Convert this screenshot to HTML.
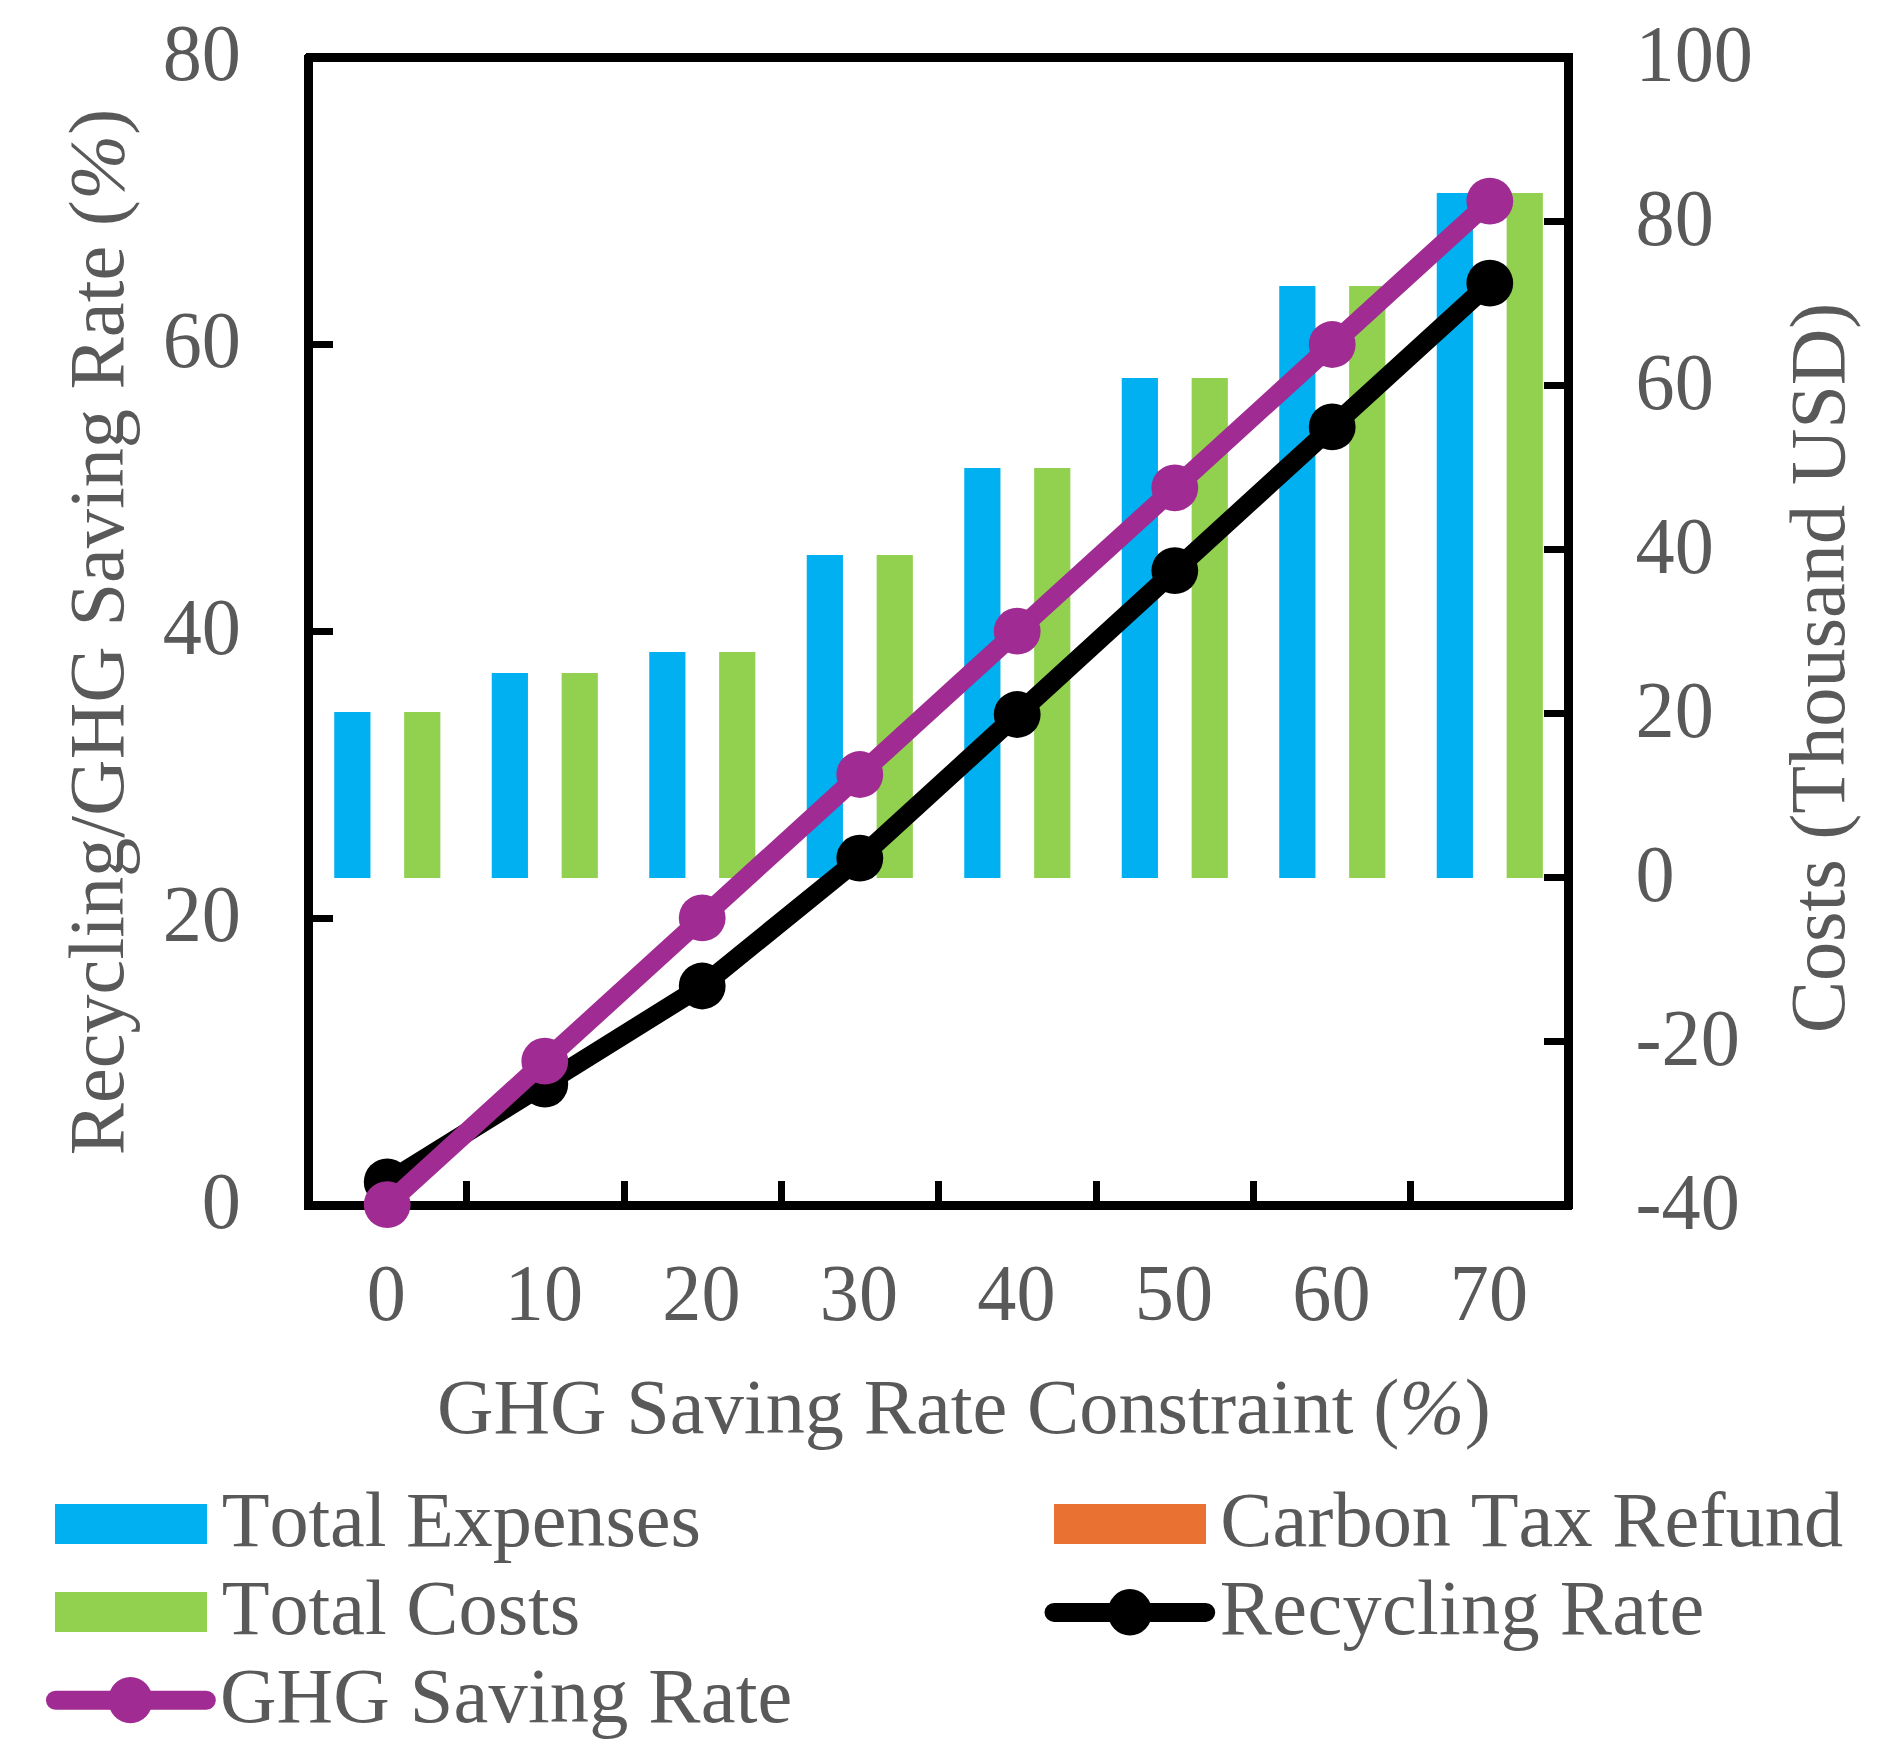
<!DOCTYPE html>
<html lang="en"><head><meta charset="utf-8"><title>GHG Saving Rate Constraint chart</title>
<style>
html,body{margin:0;padding:0;background:#fff;}
body{width:1898px;height:1744px;overflow:hidden;}
svg{display:block;}
text{font-family:"Liberation Serif",serif;font-size:78.3px;fill:#595959;font-kerning:none;white-space:pre;}
.i{font-style:italic;}
</style></head><body>
<svg width="1898" height="1744" viewBox="0 0 1898 1744">
<rect x="0" y="0" width="1898" height="1744" fill="#ffffff"/>
<g>
<rect x="334.25" y="712" width="36.2" height="166" fill="#00B0F0"/>
<rect x="404.15" y="712" width="36.2" height="166" fill="#92D050"/>
<rect x="491.75" y="673" width="36.2" height="205" fill="#00B0F0"/>
<rect x="561.65" y="673" width="36.2" height="205" fill="#92D050"/>
<rect x="649.25" y="652" width="36.2" height="226" fill="#00B0F0"/>
<rect x="719.15" y="652" width="36.2" height="226" fill="#92D050"/>
<rect x="806.75" y="555" width="36.2" height="323" fill="#00B0F0"/>
<rect x="876.65" y="555" width="36.2" height="323" fill="#92D050"/>
<rect x="964.25" y="468" width="36.2" height="410" fill="#00B0F0"/>
<rect x="1034.15" y="468" width="36.2" height="410" fill="#92D050"/>
<rect x="1121.75" y="378" width="36.2" height="500" fill="#00B0F0"/>
<rect x="1191.65" y="378" width="36.2" height="500" fill="#92D050"/>
<rect x="1279.25" y="286" width="36.2" height="592" fill="#00B0F0"/>
<rect x="1349.15" y="286" width="36.2" height="592" fill="#92D050"/>
<rect x="1436.75" y="193" width="36.2" height="685" fill="#00B0F0"/>
<rect x="1506.65" y="193" width="36.2" height="685" fill="#92D050"/>
</g>
<g fill="#000" shape-rendering="crispEdges">
<path fill-rule="evenodd" d="M306,53 H1573 V1208 L1571,1210 H304 V55 Z M313,62 V1201 H1564 V62 Z"/>
<rect x="313" y="341" width="20" height="7"/>
<rect x="313" y="628" width="20" height="7"/>
<rect x="313" y="915" width="20" height="7"/>
<rect x="1544" y="218" width="20" height="7"/>
<rect x="1544" y="382" width="20" height="7"/>
<rect x="1544" y="546" width="20" height="7"/>
<rect x="1544" y="710" width="20" height="7"/>
<rect x="1544" y="874" width="20" height="7"/>
<rect x="1544" y="1038" width="20" height="7"/>
<rect x="463" y="1181" width="7" height="20"/>
<rect x="621" y="1181" width="7" height="20"/>
<rect x="778" y="1181" width="7" height="20"/>
<rect x="935" y="1181" width="7" height="20"/>
<rect x="1093" y="1181" width="7" height="20"/>
<rect x="1250" y="1181" width="7" height="20"/>
<rect x="1407" y="1181" width="7" height="20"/>
</g>
<polyline points="387.2,1181.9 544.8,1084.1 702.2,986.0 859.8,858.2 1017.2,714.5 1174.8,570.6 1332.2,426.9 1489.8,283.1" fill="none" stroke="#000" stroke-width="19.3" stroke-linejoin="round" stroke-linecap="round"/>
<circle cx="387.2" cy="1181.9" r="23.4" fill="#000"/>
<circle cx="544.8" cy="1084.1" r="23.4" fill="#000"/>
<circle cx="702.2" cy="986.0" r="23.4" fill="#000"/>
<circle cx="859.8" cy="858.2" r="23.4" fill="#000"/>
<circle cx="1017.2" cy="714.5" r="23.4" fill="#000"/>
<circle cx="1174.8" cy="570.6" r="23.4" fill="#000"/>
<circle cx="1332.2" cy="426.9" r="23.4" fill="#000"/>
<circle cx="1489.8" cy="283.1" r="23.4" fill="#000"/>
<polyline points="387.2,1204.6 544.8,1061.2 702.2,917.9 859.8,774.5 1017.2,631.2 1174.8,487.8 1332.2,344.5 1489.8,201.1" fill="none" stroke="#A02B93" stroke-width="19.3" stroke-linejoin="round" stroke-linecap="round"/>
<circle cx="387.2" cy="1204.6" r="23.4" fill="#A02B93"/>
<circle cx="544.8" cy="1061.2" r="23.4" fill="#A02B93"/>
<circle cx="702.2" cy="917.9" r="23.4" fill="#A02B93"/>
<circle cx="859.8" cy="774.5" r="23.4" fill="#A02B93"/>
<circle cx="1017.2" cy="631.2" r="23.4" fill="#A02B93"/>
<circle cx="1174.8" cy="487.8" r="23.4" fill="#A02B93"/>
<circle cx="1332.2" cy="344.5" r="23.4" fill="#A02B93"/>
<circle cx="1489.8" cy="201.1" r="23.4" fill="#A02B93"/>
<text transform="translate(241.0,1228.3) scale(1,1.015)" text-anchor="end">0</text>
<text transform="translate(241.0,941.3) scale(1,1.015)" text-anchor="end">20</text>
<text transform="translate(241.0,654.3) scale(1,1.015)" text-anchor="end">40</text>
<text transform="translate(241.0,367.3) scale(1,1.015)" text-anchor="end">60</text>
<text transform="translate(241.0,80.3) scale(1,1.015)" text-anchor="end">80</text>
<text transform="translate(1635.5,80.8) scale(1,1.015)">100</text>
<text transform="translate(1635.5,244.8) scale(1,1.015)">80</text>
<text transform="translate(1635.5,408.8) scale(1,1.015)">60</text>
<text transform="translate(1635.5,572.8) scale(1,1.015)">40</text>
<text transform="translate(1635.5,736.8) scale(1,1.015)">20</text>
<text transform="translate(1635.5,900.8) scale(1,1.015)">0</text>
<text transform="translate(1635.5,1064.8) scale(1,1.015)">-20</text>
<text transform="translate(1635.5,1228.8) scale(1,1.015)">-40</text>
<text transform="translate(386.4,1320.0) scale(1,1.015)" text-anchor="middle">0</text>
<text transform="translate(544.0,1320.0) scale(1,1.015)" text-anchor="middle">10</text>
<text transform="translate(701.5,1320.0) scale(1,1.015)" text-anchor="middle">20</text>
<text transform="translate(859.0,1320.0) scale(1,1.015)" text-anchor="middle">30</text>
<text transform="translate(1016.5,1320.0) scale(1,1.015)" text-anchor="middle">40</text>
<text transform="translate(1174.0,1320.0) scale(1,1.015)" text-anchor="middle">50</text>
<text transform="translate(1331.5,1320.0) scale(1,1.015)" text-anchor="middle">60</text>
<text transform="translate(1489.0,1320.0) scale(1,1.015)" text-anchor="middle">70</text>
<text x="436.89" y="1433.1" style="letter-spacing:0.045px">GHG Saving Rate Constraint (<tspan class="i">%</tspan>)</text>
<text transform="translate(123.0,1153.1) rotate(-90)" x="-2.26" y="0" style="letter-spacing:0.024px">Recycling/GHG Saving Rate (<tspan class="i">%</tspan>)</text>
<text transform="translate(1844.0,1030.1) rotate(-90)" x="-3.21" y="0" style="letter-spacing:-0.008px">Costs (Thousand USD)</text>
<rect x="54.8" y="1504" width="152" height="39.8" fill="#00B0F0" shape-rendering="crispEdges"/>
<rect x="54.8" y="1592" width="152" height="39.8" fill="#92D050" shape-rendering="crispEdges"/>
<rect x="1053.8" y="1504" width="152" height="39.8" fill="#E97132" shape-rendering="crispEdges"/>
<line x1="55.5" y1="1700.3" x2="206.3" y2="1700.3" stroke="#A02B93" stroke-width="19" stroke-linecap="round"/>
<ellipse cx="130.4" cy="1700.1" rx="22.2" ry="23.2" fill="#A02B93"/>
<line x1="1054" y1="1612.4" x2="1205.7" y2="1612.4" stroke="#000" stroke-width="19" stroke-linecap="round"/>
<ellipse cx="1129.9" cy="1612.3" rx="22.2" ry="23.2" fill="#000"/>
<text x="221.69" y="1545.9" style="letter-spacing:-0.100px">Total Expenses</text>
<text x="221.69" y="1634.0" style="letter-spacing:-0.024px">Total Costs</text>
<text x="219.89" y="1721.6" style="letter-spacing:0.196px">GHG Saving Rate</text>
<text x="1220.19" y="1545.9" style="letter-spacing:0.067px">Carbon Tax Refund</text>
<text x="1219.84" y="1634.0" style="letter-spacing:0.297px">Recycling Rate</text>
</svg></body></html>
